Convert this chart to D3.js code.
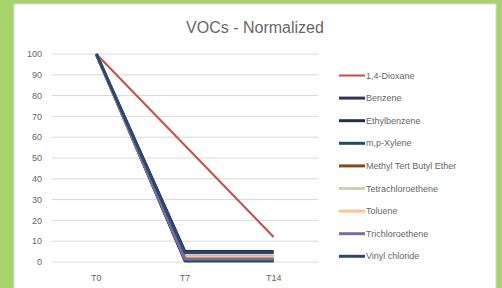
<!DOCTYPE html>
<html>
<head>
<meta charset="utf-8">
<script src="https://cdn.jsdelivr.net/npm/d3@7"></script>
<style>
  html, body { margin: 0; padding: 0; background: #a8d26c; }
  svg { display: block; }
  text { font-family: "Liberation Sans", Arial, sans-serif; fill: #666666; }
</style>
</head>
<body>
<div id="chart"></div>
<script>
// Chart data
const categories = ['T0', 'T7', 'T14'];
const seriesNames = [
  '1,4-Dioxane', 'Benzene', 'Ethylbenzene', 'm,p-Xylene', 'Methyl Tert Butyl Ether',
  'Tetrachloroethene', 'Toluene', 'Trichloroethene', 'Vinyl chloride'
];
const dioxane = [100, 56, 12];
const benzene = [100, 1, 1];
const ethylbenzene = [100, 5, 5];
const xylene = [100, 0.5, 0.5];
const mtbe = [100, 2.5, 2.5];
const tetrachloroethene = [100, 2, 2];
const toluene = [100, 2.5, 2.5];
const trichloroethene = [100, 1.5, 1.5];
const vinylChloride = [100, 4.5, 4.5];
const yTicks = [0, 10, 20, 30, 40, 50, 60, 70, 80, 90, 100];

const seriesValues = [dioxane, benzene, ethylbenzene, xylene, mtbe,
  tetrachloroethene, toluene, trichloroethene, vinylChloride];
const colors = ['#c0504d', '#33335e', '#1f3050', '#1d4f5c', '#8a4a1c',
  '#c6d6a8', '#f9c392', '#7e6c9c', '#2b4870'];
const widths = [2, 3, 3, 3, 3, 3, 3, 3, 3];

const width = 502, height = 288;
const svg = d3.select('#chart').append('svg')
  .attr('width', width)
  .attr('height', height);

// white chart panel
svg.append('rect')
  .attr('x', 14).attr('y', 4)
  .attr('width', 482).attr('height', 290)
  .attr('fill', '#ffffff')
  .attr('stroke', '#d9d9d9');

svg.append('text')
  .attr('x', 255).attr('y', 33)
  .attr('text-anchor', 'middle')
  .attr('font-size', 16)
  .attr('fill', '#595959')
  .text('VOCs - Normalized');

const x = d3.scalePoint().domain(categories).range([52, 318]).padding(0.5);
const y = d3.scaleLinear().domain([0, 100]).range([262, 54]);

// gridlines
svg.append('g').selectAll('line')
  .data(yTicks)
  .enter().append('line')
  .attr('x1', 52).attr('x2', 318)
  .attr('y1', d => y(d)).attr('y2', d => y(d))
  .attr('stroke', '#d9d9d9')
  .attr('stroke-width', 1);

// y tick labels
svg.append('g').selectAll('text')
  .data(yTicks)
  .enter().append('text')
  .attr('x', 42)
  .attr('y', d => y(d))
  .attr('dy', '0.35em')
  .attr('text-anchor', 'end')
  .attr('font-size', 9)
  .text(d => d);

// x labels
svg.append('g').selectAll('text')
  .data(categories)
  .enter().append('text')
  .attr('x', d => x(d))
  .attr('y', 281)
  .attr('text-anchor', 'middle')
  .attr('font-size', 9)
  .text(d => d);

const line = d3.line()
  .x((d, i) => x(categories[i]))
  .y(d => y(d));

svg.append('g').selectAll('path')
  .data(seriesValues)
  .enter().append('path')
  .attr('d', d => line(d))
  .attr('fill', 'none')
  .attr('stroke', (d, i) => colors[i])
  .attr('stroke-width', (d, i) => widths[i])
  .attr('stroke-linejoin', 'round');

// legend
const legend = svg.append('g').selectAll('g')
  .data(seriesNames)
  .enter().append('g')
  .attr('transform', (d, i) => `translate(339, ${75.5 + i * 22.6})`);

legend.append('line')
  .attr('x1', 0).attr('x2', 26)
  .attr('stroke', (d, i) => colors[i])
  .attr('stroke-width', (d, i) => widths[i]);

legend.append('text')
  .attr('x', 27)
  .attr('dy', '0.35em')
  .attr('font-size', 9)
  .text(d => d);
</script>
</body>
</html>
